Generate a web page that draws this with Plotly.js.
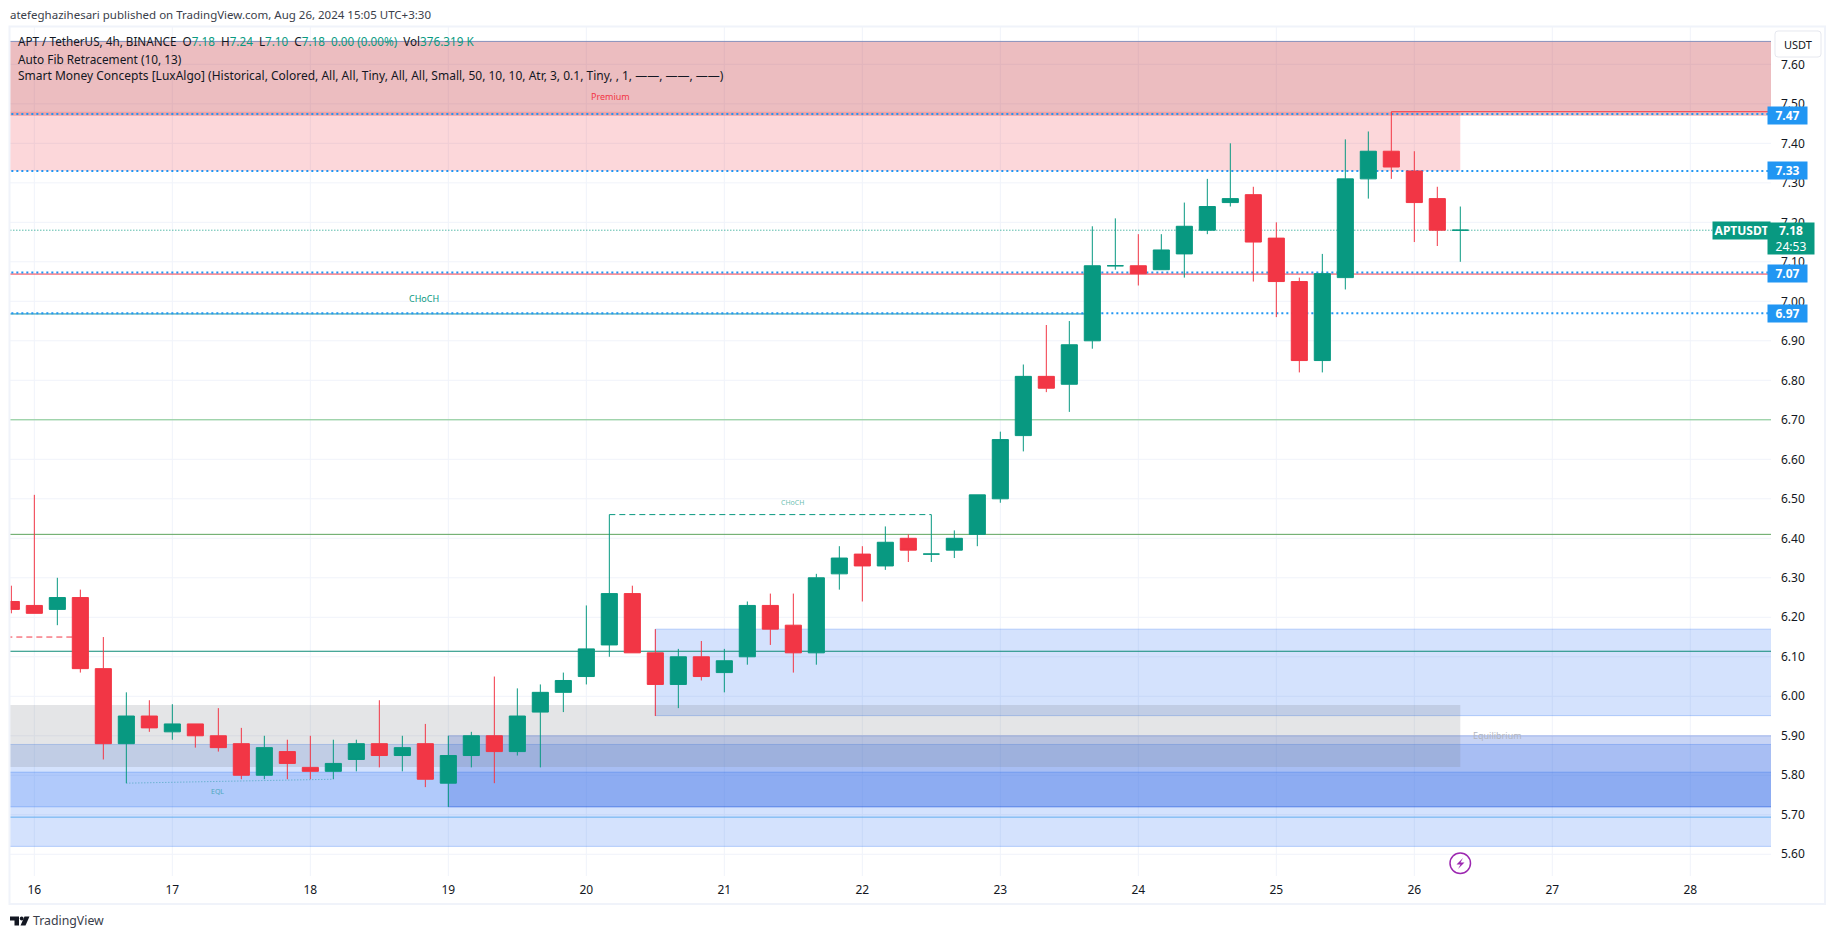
<!DOCTYPE html>
<html><head><meta charset="utf-8">
<script src="https://cdn.plot.ly/plotly-3.0.1.min.js"></script>
<style>html,body{margin:0;padding:0;background:#fff;overflow:hidden}#c{width:1835px;height:939px}</style>
</head><body><div id="c"></div>
<script>
const times=['2024-08-15 20:00',
'2024-08-16 00:00','2024-08-16 04:00','2024-08-16 08:00','2024-08-16 12:00','2024-08-16 16:00','2024-08-16 20:00',
'2024-08-17 00:00','2024-08-17 04:00','2024-08-17 08:00','2024-08-17 12:00','2024-08-17 16:00','2024-08-17 20:00',
'2024-08-18 00:00','2024-08-18 04:00','2024-08-18 08:00','2024-08-18 12:00','2024-08-18 16:00','2024-08-18 20:00',
'2024-08-19 00:00','2024-08-19 04:00','2024-08-19 08:00','2024-08-19 12:00','2024-08-19 16:00','2024-08-19 20:00',
'2024-08-20 00:00','2024-08-20 04:00','2024-08-20 08:00','2024-08-20 12:00','2024-08-20 16:00','2024-08-20 20:00',
'2024-08-21 00:00','2024-08-21 04:00','2024-08-21 08:00','2024-08-21 12:00','2024-08-21 16:00','2024-08-21 20:00',
'2024-08-22 00:00','2024-08-22 04:00','2024-08-22 08:00','2024-08-22 12:00','2024-08-22 16:00','2024-08-22 20:00',
'2024-08-23 00:00','2024-08-23 04:00','2024-08-23 08:00','2024-08-23 12:00','2024-08-23 16:00','2024-08-23 20:00',
'2024-08-24 00:00','2024-08-24 04:00','2024-08-24 08:00','2024-08-24 12:00','2024-08-24 16:00','2024-08-24 20:00',
'2024-08-25 00:00','2024-08-25 04:00','2024-08-25 08:00','2024-08-25 12:00','2024-08-25 16:00','2024-08-25 20:00',
'2024-08-26 00:00','2024-08-26 04:00','2024-08-26 08:00'];
const opens=[6.24,6.23,6.22,6.25,6.07,5.88,5.95,5.91,5.93,5.90,5.88,5.80,5.86,5.82,5.81,5.84,5.88,5.85,5.88,5.78,5.85,5.90,5.86,5.96,6.01,6.05,6.13,6.26,6.11,6.03,6.10,6.06,6.10,6.23,6.18,6.11,6.31,6.36,6.33,6.40,6.36,6.37,6.41,6.50,6.66,6.81,6.79,6.90,7.09,7.09,7.08,7.12,7.18,7.25,7.27,7.16,7.05,6.85,7.06,7.31,7.38,7.33,7.26,7.18];
const highs=[6.28,6.51,6.30,6.27,6.15,6.01,5.99,5.98,5.93,5.97,5.92,5.90,5.89,5.90,5.89,5.89,5.99,5.90,5.93,5.90,5.91,6.05,6.02,6.03,6.06,6.23,6.46,6.28,6.17,6.12,6.14,6.12,6.24,6.26,6.26,6.31,6.38,6.38,6.43,6.41,6.46,6.42,6.51,6.67,6.84,6.94,6.95,7.19,7.21,7.17,7.17,7.25,7.31,7.40,7.29,7.20,7.06,7.12,7.41,7.43,7.48,7.38,7.29,7.24];
const lows=[6.21,6.21,6.18,6.06,5.84,5.78,5.91,5.89,5.87,5.86,5.79,5.79,5.79,5.79,5.79,5.81,5.82,5.81,5.77,5.72,5.82,5.78,5.85,5.82,5.96,6.03,6.10,6.11,5.95,5.97,6.04,6.01,6.08,6.13,6.06,6.08,6.27,6.24,6.32,6.34,6.34,6.35,6.38,6.49,6.62,6.77,6.72,6.88,7.08,7.04,7.08,7.06,7.17,7.24,7.05,6.96,6.82,6.82,7.03,7.26,7.31,7.15,7.14,7.10];
const closes=[6.22,6.21,6.25,6.07,5.88,5.95,5.92,5.93,5.90,5.87,5.80,5.87,5.83,5.81,5.83,5.88,5.85,5.87,5.79,5.85,5.90,5.86,5.95,6.01,6.04,6.12,6.26,6.11,6.03,6.10,6.05,6.09,6.23,6.17,6.11,6.30,6.35,6.33,6.39,6.37,6.36,6.40,6.51,6.65,6.81,6.78,6.89,7.09,7.09,7.07,7.13,7.19,7.24,7.26,7.15,7.05,6.85,7.07,7.31,7.38,7.34,7.25,7.18,7.18];
const priceTicks=[5.6,5.7,5.8,5.9,6.0,6.1,6.2,6.3,6.4,6.5,6.6,6.7,6.8,6.9,7.0,7.1,7.2,7.3,7.4,7.5,7.6];
const dayTicks=['2024-08-16','2024-08-17','2024-08-18','2024-08-19','2024-08-20','2024-08-21','2024-08-22','2024-08-23','2024-08-24','2024-08-25','2024-08-26','2024-08-27','2024-08-28'];
const dayLabels=['16','17','18','19','20','21','22','23','24','25','26','27','28'];
const priceTags=[7.47,7.33,7.07,6.97];
const lastPrice=7.18;

const GREEN='#089981',RED='#f23645',BLUE='#2196f3',INK='#131722',FONT='"Noto Sans", sans-serif';
const W=1835,H=939,L=10,R=1771,T=27,B=876;
const px=x=>(x-L)/(R-L), py=y=>(B-y)/(B-T);
const path=s=>s.replace(/(-?[\d.]+),(-?[\d.]+)/g,(m,a,b)=>px(+a).toFixed(6)+','+py(+b).toFixed(6));

function pick(test,key){return times.map((t,i)=>i).filter(test).map(i=>key[i]);}
const isUp=i=>closes[i]>=opens[i], isDown=i=>closes[i]<opens[i];
function candle(test,col){return {type:'candlestick',
  x:pick(test,times),open:pick(test,opens),high:pick(test,highs),low:pick(test,lows),close:pick(test,closes),
  whiskerwidth:0,
  increasing:{line:{color:col,width:1},fillcolor:col},decreasing:{line:{color:col,width:1},fillcolor:col},
  showlegend:false,hoverinfo:'skip'};}

const X0='2024-08-15 00:00',X1='2024-08-30 00:00';
const bar=i=>times[i];
const DOT='2px,3px',FINE='1px,2px',DASH='6px,4px';
function box(x0,x1,y0,y1,fill,line){return {type:'rect',layer:'below',xref:'x',yref:'y',x0,x1,y0,y1,fillcolor:fill,line:{color:line||'rgba(0,0,0,0)',width:line?1:0}};}
function hl(x0,x1,y,color,width,dash){return {type:'line',layer:'below',xref:'x',yref:'y',x0,x1,y0:y,y1:y,line:{color,width,dash:dash||'solid'}};}
const LB='rgba(41,110,245,0.2)',LBL='rgba(41,110,245,0.28)',GRID='#f0f3fa';
const gridShapes=[
  ...priceTicks.map(v=>({type:'line',layer:'below',xref:'paper',yref:'y',x0:0,x1:1,y0:v,y1:v,line:{color:GRID,width:1}})),
  ...dayTicks.map(d=>({type:'line',layer:'below',xref:'x',yref:'paper',x0:d,x1:d,y0:0,y1:1,line:{color:GRID,width:1}}))
];
const shapes=[
  ...gridShapes,
  box(X0,X1,7.47,7.658,'rgba(197,55,64,0.33)'),
  hl(X0,X1,7.658,'#8791bb',1),
  box(X0,bar(63),7.33,7.48,'rgba(242,54,69,0.2)'),
  box(X0,X1,5.62,5.878,LB,LBL),
  box(X0,X1,5.72,5.808,LB,LBL),
  box(bar(19),X1,5.72,5.90,'rgba(35,83,215,0.25)','rgba(35,83,215,0.3)'),
  box(bar(28),X1,5.951,6.17,LB,LBL),
  box(X0,bar(63),5.821,5.978,'rgba(120,123,134,0.2)'),
  hl(X0,X1,6.41,'#5ea55e',1),
  hl(X0,X1,6.114,'#0c8a77',1),
  hl(X0,X1,6.70,'#7cc68a',1),
  hl(X0,X1,5.694,'#64aef0',1),
  hl(bar(60),X1,7.48,RED,1),
  hl(X0,X1,7.069,RED,1),
  hl(X0,bar(47),6.968,'#0e8fa5',1),
  hl(X0,X1,7.474,BLUE,2,DOT),
  hl(X0,X1,7.33,BLUE,2,DOT),
  hl(X0,X1,7.073,BLUE,2,DOT),
  hl(X0,X1,6.97,BLUE,2,DOT),
  hl(X0,X1,lastPrice,GREEN,1,FINE),
  hl(X0,bar(3),6.15,RED,1,DASH),
  hl(bar(26),bar(40),6.46,GREEN,1,DASH),
  {type:'line',layer:'below',xref:'x',yref:'y',x0:bar(5),x1:bar(14),y0:5.78,y1:5.79,line:{color:'#4fa8c0',width:1,dash:FINE}},
  // frame
  {type:'rect',xref:'paper',yref:'paper',x0:px(9.5),x1:px(1825),y0:py(26.5),y1:py(904),line:{color:'#f0f3fa',width:2}},
  // USDT button
  {type:'path',xref:'paper',yref:'paper',fillcolor:'#fff',line:{color:'#e6e8ef',width:1},
   path:path('M1778,31 L1818,31 Q1821,31 1821,34 L1821,54 Q1821,57 1818,57 L1778,57 Q1775,57 1775,54 L1775,34 Q1775,31 1778,31 Z')},
  // event icon
  {type:'circle',xref:'paper',yref:'paper',x0:px(1450),x1:px(1470.5),y0:py(873.5),y1:py(853),fillcolor:'#fff',line:{color:'#9c27b0',width:1.5}},
  {type:'path',xref:'paper',yref:'paper',fillcolor:'#9c27b0',line:{width:0},path:path('M1463,858 L1456.5,864.5 L1460.5,864.5 L1458,869 L1464.5,862.5 L1460.5,862.5 Z')},
  // logo
  {type:'path',xref:'paper',yref:'paper',fillcolor:INK,line:{width:0},path:path('M10,916.5 L19,916.5 L19,925.5 L14.5,925.5 L14.5,920.5 L10,920.5 Z')},
  {type:'circle',xref:'paper',yref:'paper',x0:px(19.8),x1:px(23.6),y0:py(920.5),y1:py(916.5),fillcolor:INK,line:{width:0}},
  {type:'path',xref:'paper',yref:'paper',fillcolor:INK,line:{width:0},path:path('M24.5,916.5 L29.5,916.5 L25.5,925.5 L20.5,925.5 Z')}
];

const g=s=>`<span style="color:${GREEN}">${s}</span>`;
function pageText(text,x,y,size,color,anchor){return {text,xref:'paper',yref:'paper',x:px(x),y:py(y),xanchor:anchor||'left',yanchor:'middle',showarrow:false,align:'left',font:{family:FONT,size,color:color||INK},borderpad:0,borderwidth:0};}
function chartText(text,x,y,size,color){return {text,xref:'x',yref:'y',x,y,xanchor:'center',yanchor:'middle',showarrow:false,font:{family:FONT,size,color},borderpad:0};}
const TAGSHIFT=-4;
const annotations=[
  pageText('atefeghazihesari published on TradingView.com, Aug 26, 2024 15:05 UTC+3:30',10,15,11.5,'#3a3e4a'),
  pageText('APT / TetherUS, 4h, BINANCE\u00a0\u00a0O'+g('7.18')+'\u00a0\u00a0H'+g('7.24')+'\u00a0\u00a0L'+g('7.10')+'\u00a0\u00a0C'+g('7.18')+'\u00a0\u00a0'+g('0.00 (0.00%)')+'\u00a0\u00a0Vol'+g('376.319\u00a0K'),18,41,11.7),
  pageText('Auto Fib Retracement (10, 13)',18,59,11.8),
  pageText('Smart Money Concepts [LuxAlgo] (Historical, Colored, All, All, Tiny, All, All, Small, 50, 10, 10, Atr, 3, 0.1, Tiny, , 1, \u2014\u2014, \u2014\u2014, \u2014\u2014)',18,76,12),
  pageText('USDT',1798,44,11,INK,'center'),
  pageText('TradingView',33,921,12.3,'#3a3e4a'),
  chartText('Premium','2024-08-20 04:10',7.519,9,RED),
  chartText('CHoCH','2024-08-18 19:50',7.008,9,GREEN),
  chartText('CHoCH','2024-08-21 11:55',6.49,7,'rgba(8,153,129,0.65)'),
  chartText('EQL','2024-08-17 07:50',5.759,7,'#4fa8c0'),
  chartText('Equilibrium','2024-08-26 14:24',5.90,9,'#b2b5be'),
  ...priceTags.map(v=>({text:'<b>'+v.toFixed(2)+'</b>',xref:'paper',yref:'y',x:1,y:v,xanchor:'left',yanchor:'middle',xshift:TAGSHIFT,showarrow:false,width:39,height:17,bgcolor:BLUE,align:'center',font:{family:FONT,size:12,color:'#fff'},borderpad:0})),
  {text:'<b>APTUSDT</b>',xref:'paper',yref:'y',x:1,y:lastPrice,xanchor:'right',yanchor:'middle',showarrow:false,width:57,height:17,bgcolor:GREEN,align:'center',font:{family:FONT,size:12,color:'#fff'},borderpad:0},
  {text:'<b>'+lastPrice.toFixed(2)+'</b><br>24:53',xref:'paper',yref:'y',x:1,y:7.2,xanchor:'left',yanchor:'top',xshift:TAGSHIFT,showarrow:false,width:46,height:31,bgcolor:GREEN,align:'center',font:{family:FONT,size:12,color:'#fff'},borderpad:0}
];

const layout={width:W,height:H,autosize:false,paper_bgcolor:'#fff',plot_bgcolor:'#fff',showlegend:false,
  margin:{l:L,r:W-R,t:T,b:H-B,pad:0},boxmode:'overlay',boxgap:0.3,boxgroupgap:0,dragmode:false,
  font:{family:FONT,color:INK},
  xaxis:{type:'date',range:['2024-08-15 19:46:00','2024-08-28 14:02:00'],tickmode:'array',tickvals:dayTicks,ticktext:dayLabels,
    showgrid:false,zeroline:false,showline:false,ticks:'',ticklabelstandoff:5,
    tickfont:{size:12,color:INK,family:FONT},rangeslider:{visible:false},fixedrange:true},
  yaxis:{side:'right',range:[5.545,7.6945],tickmode:'array',tickvals:priceTicks,ticktext:priceTicks.map(v=>v.toFixed(2)),
    showgrid:false,zeroline:false,showline:false,ticks:'',ticklabelstandoff:9,
    tickfont:{size:12,color:INK,family:FONT},fixedrange:true},
  shapes,annotations};
Plotly.newPlot('c',[candle(isUp,GREEN),candle(isDown,RED)],layout,{displayModeBar:false,staticPlot:true});
</script></body></html>
